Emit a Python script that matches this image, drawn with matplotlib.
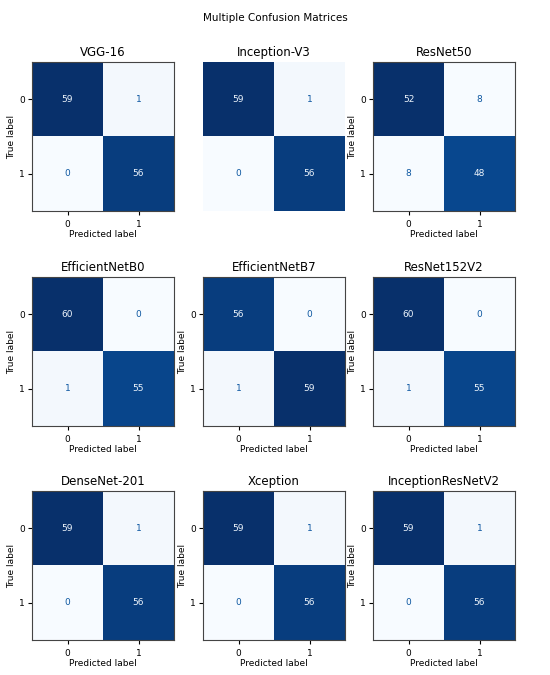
import numpy as np
import matplotlib
matplotlib.use("Agg")
import matplotlib.pyplot as plt

# model names and their confusion matrices
models = ["VGG-16", "Inception-V3", "ResNet50",
          "EfficientNetB0", "EfficientNetB7", "ResNet152V2",
          "DenseNet-201", "Xception", "InceptionResNetV2"]
vgg16 = [[59, 1], [0, 56]]
inception_v3 = [[59, 1], [0, 56]]
resnet50 = [[52, 8], [8, 48]]
effb0 = [[60, 0], [1, 55]]
effb7 = [[56, 0], [1, 59]]
resnet152v2 = [[60, 0], [1, 55]]
densenet201 = [[59, 1], [0, 56]]
xception = [[59, 1], [0, 56]]
incresv2 = [[59, 1], [0, 56]]
matrices = [vgg16, inception_v3, resnet50, effb0, effb7, resnet152v2,
            densenet201, xception, incresv2]
class_labels = ["0", "1"]
hidden_axes = ["Inception-V3"]

W, H = 550, 675
fig = plt.figure(figsize=(W / 100, H / 100), dpi=100)
fig.suptitle("Multiple Confusion Matrices", y=1 - 13 / H, fontsize=7.5)

col_x = [32, 203, 373]
row_y = [62, 277, 491]
aw, ah = 142, 149

cmap = plt.get_cmap("Blues")
for k, (name, cm) in enumerate(zip(models, matrices)):
    r, c = divmod(k, 3)
    ax = fig.add_axes([col_x[c] / W, 1 - (row_y[r] + ah) / H, aw / W, ah / H])
    cm = np.array(cm)
    ax.imshow(cm, cmap=cmap, aspect="auto", interpolation="nearest")
    thresh = (cm.max() + cm.min()) / 2.0
    for i in range(2):
        for j in range(2):
            color = cmap(0.05) if cm[i, j] > thresh else cmap(0.85)
            ax.text(j, i, str(cm[i, j]), ha="center", va="center",
                    color=color, fontsize=6.5)
    ax.set_title(name, fontsize=8.5, pad=4)
    ax.set_xticks(range(2))
    ax.set_yticks(range(2))
    ax.set_xticklabels(class_labels, fontsize=6.5)
    ax.set_yticklabels(class_labels, fontsize=6.5)
    ax.set_xlabel("Predicted label", fontsize=6.5, labelpad=1)
    ax.set_ylabel("True label", fontsize=6.5, labelpad=2)
    ax.tick_params(axis="x", length=3, pad=3.5)
    ax.tick_params(axis="y", length=3, pad=2)
    for sp in ax.spines.values():
        sp.set_color("#444444")
    if name in hidden_axes:
        ax.axis("off")

fig.savefig("out.png", dpi=100)
